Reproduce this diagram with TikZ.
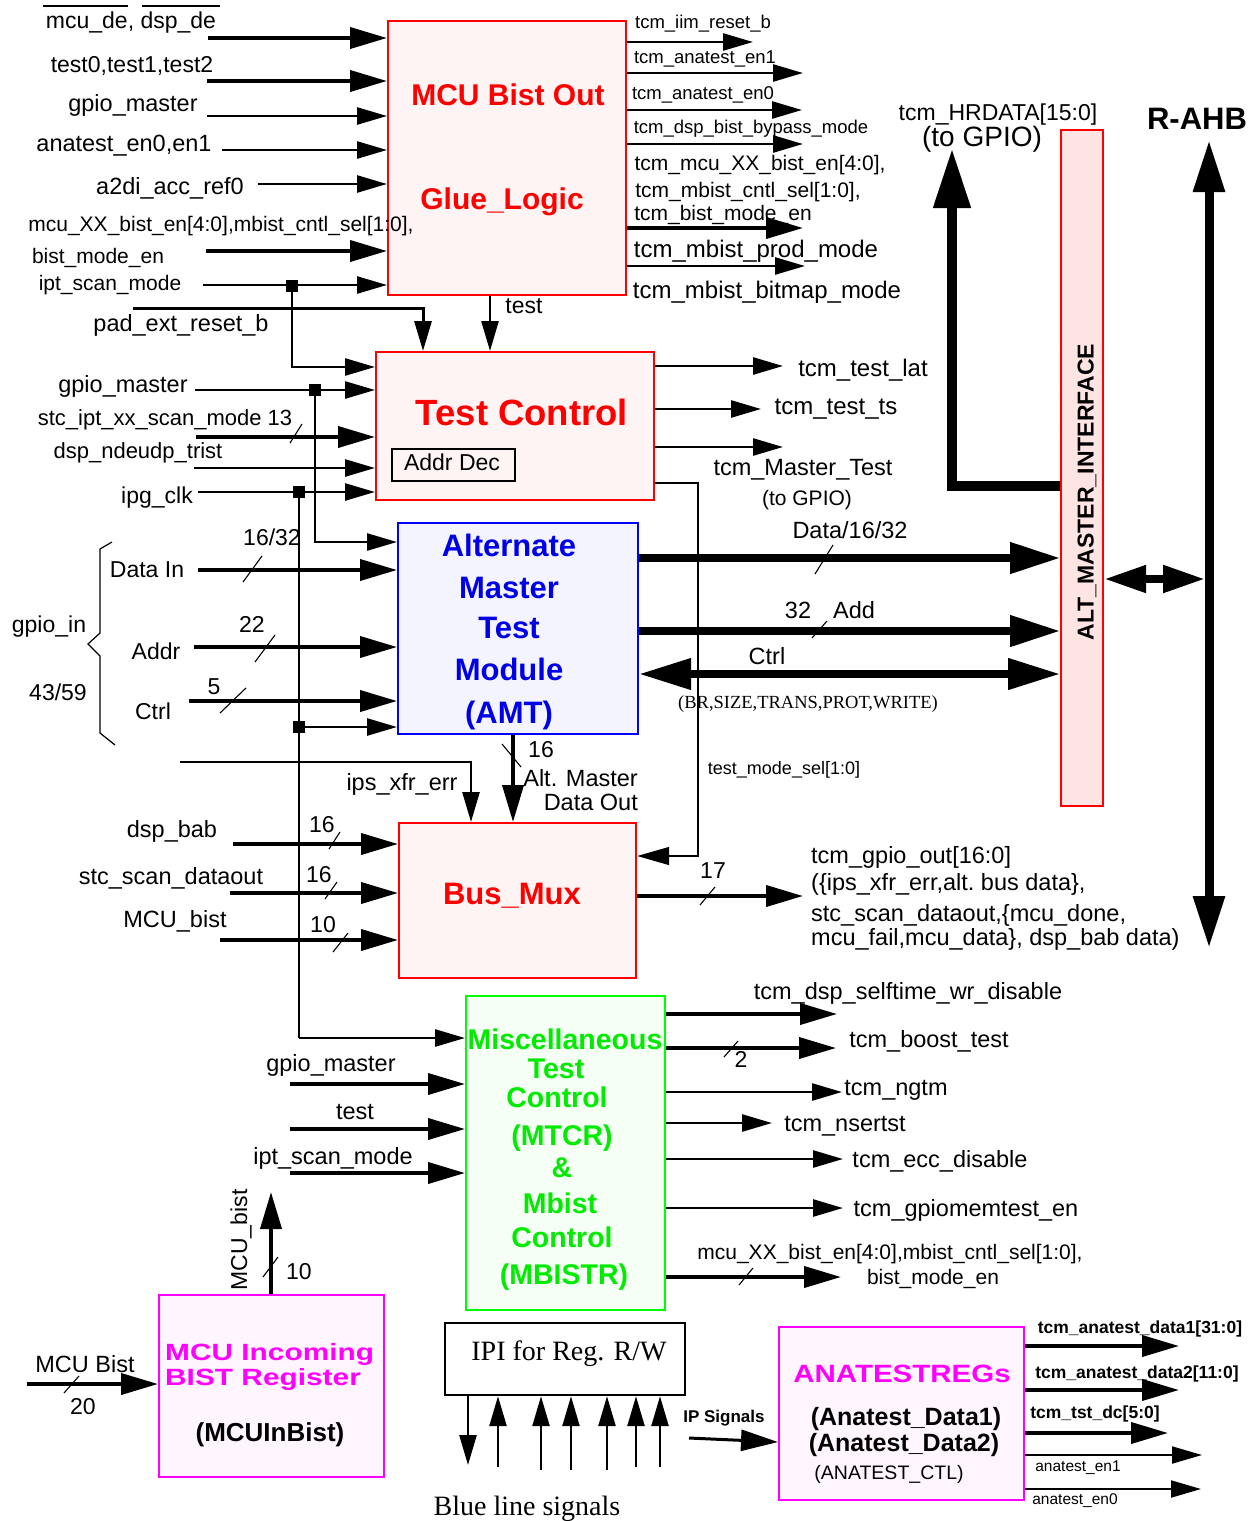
\documentclass[tikz,border=0pt]{standalone}
\usepackage{fontspec}
\usepackage{graphicx}
\setmainfont{Liberation Sans}
\newfontfamily\tmsfont{Liberation Serif}
\usetikzlibrary{arrows.meta}
\newcommand\setfs[1]{\fontsize{#1}{#1}\selectfont}
\definecolor{redfill}{RGB}{255,244,244}
\definecolor{altfill}{RGB}{255,228,228}
\definecolor{bluefill}{RGB}{244,244,255}
\definecolor{greenfill}{RGB}{245,255,245}
\definecolor{magfill}{RGB}{255,245,255}
\definecolor{boxred}{RGB}{255,0,0}
\definecolor{boxblue}{RGB}{0,0,255}
\definecolor{boxgreen}{RGB}{0,255,0}
\definecolor{txtgreen}{RGB}{0,235,0}
\definecolor{txtblue}{RGB}{0,0,230}
\definecolor{magenta2}{RGB}{255,0,255}
\begin{document}
\begin{tikzpicture}[x=1pt,y=-1pt,
  box/.style={draw, line width=2.2pt, inner sep=0pt, anchor=north west},
  arr/.style={line width=2.6pt, -{Triangle[length=30pt,width=17pt]}},
  bus/.style={line width=3.8pt, -{Triangle[length=37pt,width=21pt]}},
  thinarr/.style={line width=1.3pt, -{Triangle[length=32pt,width=18pt]}},
  fatline/.style={line width=7.5pt},
  fathead/.style={-{Triangle[length=50pt,width=30pt]}},
  slash/.style={line width=1.1pt},
  jn/.style={fill=black, inner sep=0pt, minimum size=12pt},
  lbl/.style={inner sep=0pt, anchor=base, yshift={-0.34*#1}, font=\setfs{#1}},
  lblb/.style={lbl=#1, font=\setfs{#1}\bfseries},
  lbls/.style={lbl=#1, font=\setfs{#1}\tmsfont}]

\useasboundingbox (0,0) rectangle (1256,1521);
\fill[white] (0,0) rectangle (1256,1521);

% ---------------- blocks ----------------
\node[box, draw=boxred, fill=redfill, minimum width=238, minimum height=274] (glue) at (387,20) {};
\node[box, draw=boxred, fill=redfill, minimum width=278, minimum height=148] (tc) at (375,351) {};
\node[box, draw=black, line width=2pt, minimum width=123, minimum height=32] (addr) at (391,448) {};
\node[box, draw=boxblue, fill=bluefill, minimum width=240, minimum height=211] (amt) at (397,522) {};
\node[box, draw=boxred, fill=redfill, minimum width=237, minimum height=155] (mux) at (398,822) {};
\node[box, draw=boxgreen, fill=greenfill, minimum width=199, minimum height=314] (misc) at (465,995) {};
\node[box, draw=magenta2, fill=magfill, minimum width=225, minimum height=182] (inb) at (158,1294) {};
\node[box, draw=black, fill=white, minimum width=240, minimum height=72] (ipi) at (444,1322) {};
\node[box, draw=magenta2, fill=magfill, minimum width=245, minimum height=173] (ana) at (778,1326) {};
\node[box, draw=boxred, fill=altfill, minimum width=42, minimum height=676] (alt) at (1060,129) {};

% block titles
\node[lblb=30, text=boxred] (glueA) at (508,95) {MCU Bist Out};
\node[lblb=30, text=boxred] (glueB) at (502,199) {Glue\_Logic};
\node[lblb=36.5, text=boxred] (tcT) at (522,413) {Test Control};
\node[lbl=23] (addrT) at (452,463) {Addr Dec};
\node[lblb=31, text=txtblue] (amt1) at (509,546) {Alternate};
\node[lblb=31, text=txtblue] (amt2) at (509,588) {Master};
\node[lblb=31, text=txtblue] (amt3) at (509,628) {Test};
\node[lblb=31, text=txtblue] (amt4) at (509,670) {Module};
\node[lblb=31, text=txtblue] (amt5) at (509,713) {(AMT)};
\node[lblb=31, text=boxred] (muxT) at (512,894) {Bus\_Mux};
\node[lblb=28.5, text=txtgreen] (mi1) at (565,1040) {Miscellaneous};
\node[lblb=28.5, text=txtgreen] (mi2) at (556,1069) {Test};
\node[lblb=28.5, text=txtgreen] (mi3) at (557,1098) {Control};
\node[lblb=28.5, text=txtgreen] (mi4) at (562,1136) {(MTCR)};
\node[lblb=28.5, text=txtgreen] (mi5) at (562,1168) {\&};
\node[lblb=28.5, text=txtgreen] (mi6) at (560,1204) {Mbist};
\node[lblb=28.5, text=txtgreen] (mi7) at (562,1238) {Control};
\node[lblb=28.5, text=txtgreen] (mi8) at (564,1275) {(MBISTR)};
\node[lblb=23.5, text=magenta2, anchor=base west] (in1) at (165,1352) {\scalebox{1.27}[1]{MCU Incoming}};
\node[lblb=23.5, text=magenta2, anchor=base west] (in2) at (165,1377) {\scalebox{1.27}[1]{BIST Register}};
\node[lblb=26] (in3) at (270,1433) {(MCUInBist)};
\node[lbls=28] (ipiT) at (569,1351) {IPI for Reg. R/W};
\node[lblb=25, text=magenta2] (an1) at (902,1374) {\scalebox{1.18}[1]{ANATESTREGs}};
\node[lblb=25] (an2) at (906,1417) {(Anatest\_Data1)};
\node[lblb=25] (an3) at (904,1443) {(Anatest\_Data2)};
\node[lbl=19.5] (an4) at (889,1473) {(ANATEST\_CTL)};
\node[font=\setfs{23}\bfseries, rotate=90, inner sep=0pt] (altT) at (1087,492) {ALT\_MASTER\_INTERFACE};

% ---------------- inputs of the glue logic ----------------
\draw[bus] (208,38) coordinate (g1) -- (g1 -| glue.west);
\draw[bus] (207,81) coordinate (g2) -- (g2 -| glue.west);
\draw[arr] (207,116) coordinate (g3) -- (g3 -| glue.west);
\draw[arr] (222,150) coordinate (g4) -- (g4 -| glue.west);
\draw[arr] (258,184) coordinate (g5) -- (g5 -| glue.west);
\draw[bus] (206,251) coordinate (g6) -- (g6 -| glue.west);
\draw[arr] (203,285) coordinate (g7) -- (g7 -| glue.west);
\node[jn] (j1) at (292,286) {};
\draw[line width=1.5pt] (43,6) coordinate (o1) -- (128,6) coordinate (o2);
\draw[line width=1.5pt] (142,6) coordinate (o3) -- (220,6) coordinate (o4);
\node[lbl=23] (l1) at (131,21) {mcu\_de, dsp\_de};
\node[lbl=23] (l2) at (132,65) {test0,test1,test2};
\node[lbl=23.5] (l3) at (133,104) {gpio\_master};
\node[lbl=23.5] (l4) at (124,144) {anatest\_en0,en1};
\node[lbl=23.5] (l5) at (170,187) {a2di\_acc\_ref0};
\node[lbl=21] (l6) at (221,224) {mcu\_XX\_bist\_en[4:0],mbist\_cntl\_sel[1:0],};
\node[lbl=21] (l7) at (98,256) {bist\_mode\_en};
\node[lbl=21] (l8) at (110,283) {ipt\_scan\_mode};
\node[lbl=23.5] (l9) at (181,324) {pad\_ext\_reset\_b};

% ---------------- outputs of the glue logic ----------------
\draw[arr] (glue.east |- 0,42) -- (753,42) coordinate (go1);
\draw[arr] (glue.east |- 0,73) -- (803,73) coordinate (go2);
\draw[arr] (glue.east |- 0,110) -- (802,110) coordinate (go3);
\draw[arr] (glue.east |- 0,144) -- (803,144) coordinate (go4);
\draw[bus] (glue.east |- 0,228) -- (803,228) coordinate (go5);
\draw[arr] (glue.east |- 0,266) -- (805,266) coordinate (go6);
\node[lbl=18.5] (r1) at (703,22) {tcm\_iim\_reset\_b};
\node[lbl=18.5] (r2) at (705,57) {tcm\_anatest\_en1};
\node[lbl=18.5] (r3) at (703,93) {tcm\_anatest\_en0};
\node[lbl=18.5] (r4) at (751,127) {tcm\_dsp\_bist\_bypass\_mode};
\node[lbl=21] (r5) at (760,163) {tcm\_mcu\_XX\_bist\_en[4:0],};
\node[lbl=21] (r6) at (748,190) {tcm\_mbist\_cntl\_sel[1:0],};
\node[lbl=21] (r7) at (723,213) {tcm\_bist\_mode\_en};
\node[lbl=24] (r8) at (756,249) {tcm\_mbist\_prod\_mode};
\node[lbl=24] (r9) at (767,290) {tcm\_mbist\_bitmap\_mode};

% glue logic to test control
\draw[arr] (glue.south -| 490,0) -- (tc.north -| 490,0);
\node[lbl=23] (ltest) at (524,306) {test};
\draw[arr, line width=3pt] (133,308) coordinate (pr) -- (423,308) -- (tc.north -| 423,0);
\draw[arr] (j1.center) -- (292,367) coordinate (jr) -- (jr -| tc.west);

% ---------------- inputs of test control ----------------
\draw[arr] (195,390) coordinate (t1) -- (t1 -| tc.west);
\node[jn] (j2) at (315,390) {};
\draw[bus] (196,437) coordinate (t2) -- (t2 -| tc.west);
\draw[slash] (290,443) -- (302,424);
\draw[arr] (194,468) coordinate (t3) -- (t3 -| tc.west);
\draw[arr] (198,492) coordinate (t4) -- (t4 -| tc.west);
\node[jn] (j3) at (299,492) {};
\node[lbl=23.5] (l10) at (123,385) {gpio\_master};
\node[lbl=22] (l11) at (165,418) {stc\_ipt\_xx\_scan\_mode 13};
\node[lbl=22] (l12) at (138,451) {dsp\_ndeudp\_trist};
\node[lbl=23] (l13) at (157,496) {ipg\_clk};

% ---------------- outputs of test control ----------------
\draw[arr] (tc.east |- 0,366) -- (783,366) coordinate (to1);
\draw[arr] (tc.east |- 0,409) -- (761,409) coordinate (to2);
\draw[arr] (tc.east |- 0,447) -- (783,447) coordinate (to3);
\draw[thinarr] (tc.east |- 0,483) -- (698,483) -- (698,856) coordinate (tm) -- (tm -| mux.east);
\node[lbl=24] (l14) at (863,368) {tcm\_test\_lat};
\node[lbl=24] (l15) at (836,406) {tcm\_test\_ts};
\node[lbl=23.5] (l16) at (803,468) {tcm\_Master\_Test};
\node[lbl=21] (l17) at (807,498) {(to GPIO)};
\node[lbl=18] (l18) at (784,768) {test\_mode\_sel[1:0]};

% ---------------- inputs of the AMT ----------------
\draw[arr] (j2.center) -- (315,542) coordinate (a0) -- (a0 -| amt.west);
\draw[bus] (198,570) coordinate (a1) -- (a1 -| amt.west);
\draw[slash] (243,582) -- (262,556);
\draw[bus] (194,647) coordinate (a2) -- (a2 -| amt.west);
\draw[slash] (255,662) -- (275,635);
\draw[bus] (189,701) coordinate (a3) -- (a3 -| amt.west);
\draw[slash] (220,713) -- (246,688);
\draw[line width=2.6pt] (j3.center) -- (299,1038) coordinate (mc);
\node[jn] (j4) at (299,727) {};
\draw[arr] (j4.center) -- (j4.center -| amt.west);
\draw[line width=1.2pt] (112,542) -- (100,549) -- (100,633) -- (88,644) -- (100,656) -- (100,733) -- (115,745);
\node[lbl=23] (l19) at (272,538) {16/32};
\node[lbl=23] (l20) at (147,570) {Data In};
\node[lbl=23] (l21) at (49,625) {gpio\_in};
\node[lbl=23] (l22) at (252,625) {22};
\node[lbl=23] (l23) at (156,652) {Addr};
\node[lbl=23] (l24) at (58,693) {43/59};
\node[lbl=23] (l25) at (214,687) {5};
\node[lbl=23] (l26) at (153,712) {Ctrl};

% ---------------- AMT to the master interface ----------------
\draw[fatline, fathead] (amt.east |- 0,558) -- (alt.west |- 0,558);
\draw[slash] (815,574) -- (833,545);
\draw[fatline, fathead] (amt.east |- 0,631) -- (alt.west |- 0,631);
\draw[slash] (812,638) -- (827,621);
\draw[fatline, {Triangle[length=52pt,width=30pt]}-{Triangle[length=52pt,width=30pt]}] (amt.east |- 0,674) -- (alt.west |- 0,674);
\node[lbl=23.5] (l27) at (850,531) {Data/16/32};
\node[lbl=23.5] (l28) at (798,611) {32};
\node[lbl=23.5] (l29) at (854,611) {Add};
\node[lbl=23.5] (l30) at (767,657) {Ctrl};
\node[lbls=18.5] (l31) at (808,702) {(BR,SIZE,TRANS,PROT,WRITE)};

% read data back to GPIO and the AHB bus
\draw[line width=10.5pt, -{Triangle[length=60pt,width=35pt]}] (alt.west |- 0,486) -- (952,486) -- (952,148) coordinate (hr);
\node[lbl=23] (l32) at (998,113) {tcm\_HRDATA[15:0]};
\node[lbl=28] (l33) at (982,137) {(to GPIO)};
\draw[line width=9pt, {Triangle[length=52pt,width=30pt]}-{Triangle[length=52pt,width=30pt]}] (1209,140) coordinate (ahbT) -- (1209,948) coordinate (ahbB);
\node[lblb=31] (l34) at (1197,119) {R-AHB};
\draw[line width=8pt, {Triangle[length=42pt,width=26pt]}-{Triangle[length=42pt,width=26pt]}] (alt.east |- 0,579) -- (1205,579) coordinate (ahbM);

% ---------------- bus multiplexer ----------------
\draw[bus] (amt.south -| 513,0) -- (mux.north -| 513,0);
\draw[slash] (502,744) -- (521,767);
\node[lbl=23] (l35) at (541,750) {16};
\node[lbl=23.5, anchor=base east] (l36) at (638,778) {Alt. Master};
\node[lbl=23.5, anchor=base east] (l37) at (638,802) {Data Out};
\draw[arr] (180,762) coordinate (x1) -- (471,762) -- (mux.north -| 471,0);
\node[lbl=23.5] (l38) at (402,782) {ips\_xfr\_err};
\draw[bus] (233,844) coordinate (m1) -- (m1 -| mux.west);
\draw[slash] (329,849) -- (340,832);
\draw[bus] (230,893) coordinate (m2) -- (m2 -| mux.west);
\draw[slash] (325,899) -- (337,882);
\draw[bus] (220,940) coordinate (m3) -- (m3 -| mux.west);
\draw[slash] (333,952) -- (348,933);
\node[lbl=23.5] (l39) at (172,829) {dsp\_bab};
\node[lbl=23] (l40) at (322,825) {16};
\node[lbl=23.5] (l41) at (171,876) {stc\_scan\_dataout};
\node[lbl=23] (l42) at (319,875) {16};
\node[lbl=23.5] (l43) at (175,919) {MCU\_bist};
\node[lbl=23] (l44) at (323,925) {10};
\draw[bus] (mux.east |- 0,896) -- (803,896) coordinate (mo);
\draw[slash] (700,905) -- (715,887);
\node[lbl=23] (l45) at (713,871) {17};
\node[lbl=23.5, anchor=base west] (l46) at (811,855) {tcm\_gpio\_out[16:0]};
\node[lbl=23.5, anchor=base west] (l47) at (811,882) {(\{ips\_xfr\_err,alt.\ bus data\},};
\node[lbl=23.5, anchor=base west] (l48) at (811,913) {stc\_scan\_dataout,\{mcu\_done,};
\node[lbl=23.5, anchor=base west] (l49) at (811,937) {mcu\_fail,mcu\_data\}, dsp\_bab data)};

% ---------------- miscellaneous test control ----------------
\draw[arr] (mc) -- (mc -| misc.west);
\draw[bus] (290,1084) coordinate (c1) -- (c1 -| misc.west);
\draw[bus] (290,1129) coordinate (c2) -- (c2 -| misc.west);
\draw[bus] (290,1173) coordinate (c3) -- (c3 -| misc.west);
\node[lbl=23.5] (l50) at (331,1063) {gpio\_master};
\node[lbl=23.5] (l51) at (355,1111) {test};
\node[lbl=23.5] (l52) at (333,1156) {ipt\_scan\_mode};
\draw[bus] (misc.east |- 0,1014) -- (837,1014) coordinate (q1);
\draw[bus] (misc.east |- 0,1048) -- (836,1048) coordinate (q2);
\draw[slash] (724,1057) -- (738,1041);
\draw[arr] (misc.east |- 0,1092) -- (842,1092) coordinate (q3);
\draw[arr] (misc.east |- 0,1123) -- (772,1123) coordinate (q4);
\draw[arr] (misc.east |- 0,1159) -- (843,1159) coordinate (q5);
\draw[arr] (misc.east |- 0,1208) -- (843,1208) coordinate (q6);
\draw[bus] (misc.east |- 0,1277) -- (841,1277) coordinate (q7);
\draw[slash] (739,1285) -- (753,1268);
\node[lbl=23.5] (l53) at (908,991) {tcm\_dsp\_selftime\_wr\_disable};
\node[lbl=23.5] (l54) at (929,1039) {tcm\_boost\_test};
\node[lbl=23] (l55) at (741,1060) {2};
\node[lbl=23.5] (l56) at (896,1087) {tcm\_ngtm};
\node[lbl=23.5] (l57) at (845,1123) {tcm\_nsertst};
\node[lbl=23.5] (l58) at (940,1159) {tcm\_ecc\_disable};
\node[lbl=23.5] (l59) at (966,1208) {tcm\_gpiomemtest\_en};
\node[lbl=21] (l60) at (890,1252) {mcu\_XX\_bist\_en[4:0],mbist\_cntl\_sel[1:0],};
\node[lbl=21] (l61) at (933,1277) {bist\_mode\_en};

% ---------------- MCU incoming BIST register ----------------
\draw[bus] (inb.north -| 271,0) -- (271,1192) coordinate (ub);
\draw[slash] (263,1277) -- (278,1257);
\node[font=\setfs{23}, rotate=90, inner sep=0pt] (l62) at (241,1240) {MCU\_bist};
\node[lbl=23] (l63) at (299,1272) {10};
\draw[bus] (27,1384) coordinate (ib) -- (ib -| inb.west);
\draw[slash] (64,1393) -- (79,1376);
\node[lbl=23.5] (l64) at (85,1364) {MCU Bist};
\node[lbl=23] (l65) at (83,1407) {20};

% ---------------- register interface ----------------
\draw[arr] (ipi.south -| 468,0) -- (468,1465) coordinate (p0);
\draw[arr] (498,1467) coordinate (p1) -- (p1 |- ipi.south);
\draw[arr] (541,1470) coordinate (p2) -- (p2 |- ipi.south);
\draw[arr] (571,1470) coordinate (p3) -- (p3 |- ipi.south);
\draw[arr] (607,1470) coordinate (p4) -- (p4 |- ipi.south);
\draw[arr] (636,1467) coordinate (p5) -- (p5 |- ipi.south);
\draw[arr] (660,1467) coordinate (p6) -- (p6 |- ipi.south);
\node[lbls=28] (l66) at (527,1506) {Blue line signals};

% ---------------- analog test registers ----------------
\draw[bus, line width=3pt] (689,1438) coordinate (ip) -- (ana.west |- 0,1442);
\node[lblb=17] (l67) at (724,1417) {IP Signals};
\draw[bus] (ana.east |- 0,1346) -- (1179,1346) coordinate (n1);
\draw[bus] (ana.east |- 0,1390) -- (1179,1390) coordinate (n2);
\draw[bus] (ana.east |- 0,1433) -- (1168,1433) coordinate (n3);
\draw[arr, line width=2pt] (ana.east |- 0,1455) -- (1202,1455) coordinate (n4);
\draw[arr, line width=2pt] (ana.east |- 0,1489) -- (1201,1489) coordinate (n5);
\node[lblb=17.5] (l68) at (1140,1328) {tcm\_anatest\_data1[31:0]};
\node[lblb=17.5] (l69) at (1137,1373) {tcm\_anatest\_data2[11:0]};
\node[lblb=17.5] (l70) at (1095,1413) {tcm\_tst\_dc[5:0]};
\node[lbl=15.5] (l71) at (1078,1466) {anatest\_en1};
\node[lbl=15.5] (l72) at (1075,1499) {anatest\_en0};

\end{tikzpicture}
\end{document}
